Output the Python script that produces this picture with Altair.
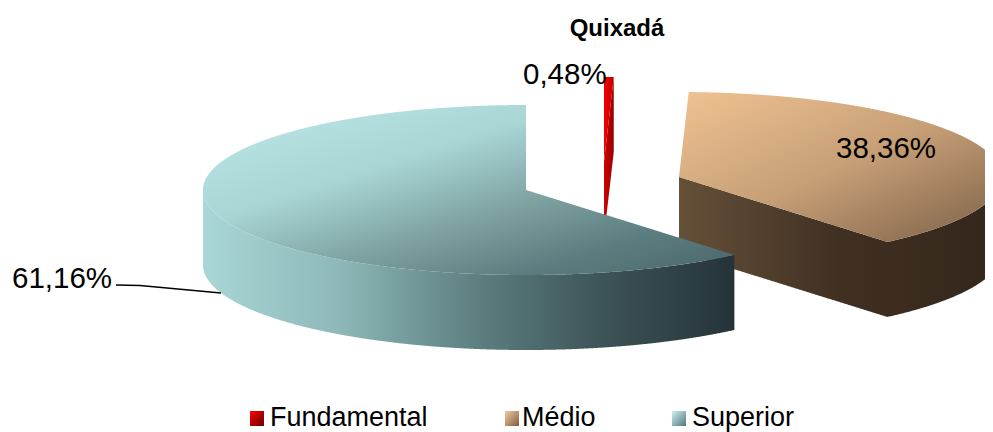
import numpy as np
import pandas as pd
import altair as alt

categories = ["Fundamental", "Médio", "Superior"]
shares = [0.48, 38.36, 61.16]
label_texts = ["0,48%", "38,36%", "61,16%"]
title_text = "Quixadá"

FONT = "Liberation Sans"
RX, RY, DEPTH = 323.0, 85.0, 75.0
X_DOM = [8, 985]
Y_DOM = [432, 8]
x_s = alt.Scale(domain=X_DOM)
y_s = alt.Scale(domain=Y_DOM)


def grad(stops, x1, y1, x2, y2):
    return alt.Gradient(
        gradient="linear",
        stops=[alt.GradientStop(color=c, offset=o) for o, c in stops],
        x1=x1, y1=y1, x2=x2, y2=y2,
    )


def pt(c, t):
    return (c[0] + RX * np.sin(t), c[1] - RY * np.cos(t))


def arc(c, a, b, n=240):
    return [pt(c, t) for t in np.linspace(a, b, n)]


def to_band(poly):
    """Turn a simple polygon into x / upper / lower columns of an area."""
    p = np.array(poly)
    q = np.roll(p, -1, axis=0)
    xs = np.unique(np.concatenate([
        np.arange(np.ceil(p[:, 0].min()), p[:, 0].max(), 1.0),
        p[:, 0] + 0.001, p[:, 0] - 0.001,
    ]))
    xs = xs[(xs >= p[:, 0].min()) & (xs <= p[:, 0].max())]
    rows = []
    for x in xs:
        m = ((p[:, 0] <= x) & (q[:, 0] > x)) | ((q[:, 0] <= x) & (p[:, 0] > x))
        if not m.any():
            continue
        ys = p[m, 1] + (x - p[m, 0]) / (q[m, 0] - p[m, 0]) * (q[m, 1] - p[m, 1])
        rows.append((x, ys.min(), ys.max()))
    return pd.DataFrame(rows, columns=["x", "y", "y2"])


def area(poly, fill):
    return alt.Chart(to_band(poly)).mark_area(color=fill, clip=True, line=False, interpolate="linear").encode(
        x=alt.X("x:Q", scale=x_s, axis=None),
        y=alt.Y("y:Q", scale=y_s, axis=None),
        y2="y2:Q",
    )


edges = 2 * np.pi * np.cumsum([0] + shares) / 100.0
c_fund, c_med, c_sup = (604.0, 162.0), (679.0, 177.0), (526.0, 190.0)

layers = []

# Fundamental
a, b = edges[0], edges[1]
tip = pt(c_fund, b)
layers.append(area([c_fund, tip, (tip[0], tip[1] + DEPTH), (c_fund[0], c_fund[1] + DEPTH)],
                   grad([(0, "#d00000"), (1, "#960000")], 0, 0, 1, 0)))
layers.append(area([c_fund] + arc(c_fund, a, b, 8),
                   grad([(0, "#f20000"), (1, "#c80000")], 0, 0, 1, 0)))

# Médio
a, b = edges[1], edges[2]
top_arc = arc(c_med, a, b)
right = arc(c_med, b, np.pi / 2)
wall = [c_med] + [(x, y) for x, y in right] + [(x, y + DEPTH) for x, y in right[::-1]] + [(c_med[0], c_med[1] + DEPTH)]
layers.append(area(wall, grad([(0, "#655039"), (0.5, "#403022"), (1, "#33261b")], 0, 0, 1, 0)))
layers.append(area([c_med] + top_arc,
                   grad([(0, "#f0c293"), (0.5, "#c79f76"), (1, "#7a5f47")], 0, 0, 1, 1)))

# Superior
a, b = edges[2], edges[3]
front = arc(c_sup, a, 1.5 * np.pi)
wall = front + [(x, y + DEPTH) for x, y in front[::-1]]
layers.append(area(wall, grad([(0, "#a9d6d6"), (0.25, "#8fb9ba"), (0.5, "#5f8283"), (0.75, "#3d5457"), (1, "#253338")], 0, 0, 1, 0)))
layers.append(area([c_sup] + arc(c_sup, a, b),
                   grad([(0, "#bde9e9"), (0.35, "#a9d5d5"), (0.6, "#7da0a0"), (0.8, "#5c7d7f"), (1, "#4a666a")], 0, 0, 1, 1)))

# Leader line for the largest slice
leader = pd.DataFrame({"x": [116, 140, 221], "y": [285, 285.5, 293]})
layers.append(alt.Chart(leader).mark_line(color="#000000", strokeWidth=1.6).encode(
    x=alt.X("x:Q", scale=x_s, axis=None), y=alt.Y("y:Q", scale=y_s, axis=None)))

# Data labels
lab = pd.DataFrame({"t": label_texts, "x": [523, 836, 12], "y": [84, 158, 288]})
layers.append(alt.Chart(lab).mark_text(font=FONT, fontSize=29.5, align="left", baseline="alphabetic", color="#000000").encode(
    x=alt.X("x:Q", scale=x_s, axis=None), y=alt.Y("y:Q", scale=y_s, axis=None), text="t:N"))

# Title
ttl = pd.DataFrame({"t": [title_text], "x": [617], "y": [36]})
layers.append(alt.Chart(ttl).mark_text(font=FONT, fontSize=24, fontWeight="bold", align="center", baseline="alphabetic", color="#000000").encode(
    x=alt.X("x:Q", scale=x_s, axis=None), y=alt.Y("y:Q", scale=y_s, axis=None), text="t:N"))

# Legend
swatches = [
    (250, 264, grad([(0, "#ff0000"), (1, "#6a0000")], 0, 0, 1, 1)),
    (505, 519, grad([(0, "#f5c89a"), (1, "#7a5f47")], 0, 0, 1, 1)),
    (672, 686, grad([(0, "#c8f3f3"), (1, "#55767a")], 0, 0, 1, 1)),
]
for x0, x1, g in swatches:
    d = pd.DataFrame({"x": [x0], "x2": [x1], "y": [411], "y2": [426]})
    layers.append(alt.Chart(d).mark_rect(color=g).encode(
        x=alt.X("x:Q", scale=x_s, axis=None), x2="x2:Q",
        y=alt.Y("y:Q", scale=y_s, axis=None), y2="y2:Q"))
leg = pd.DataFrame({"t": categories, "x": [270, 522, 692], "y": [426, 426, 426]})
layers.append(alt.Chart(leg).mark_text(font=FONT, fontSize=27, align="left", baseline="alphabetic", color="#000000").encode(
    x=alt.X("x:Q", scale=x_s, axis=None), y=alt.Y("y:Q", scale=y_s, axis=None), text="t:N"))

chart = alt.layer(*layers).properties(width=977, height=424, padding=0, autosize=alt.AutoSizeParams(type="none")).configure_view(stroke=None)
chart.save("out.html", embed_options={"renderer": "svg", "actions": False})
